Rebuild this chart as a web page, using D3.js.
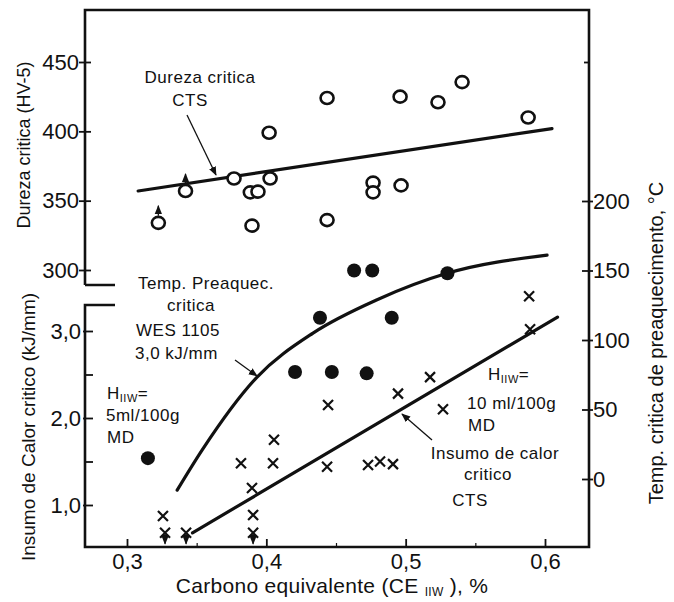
<!DOCTYPE html>
<html><head><meta charset="utf-8">
<script src="https://cdn.jsdelivr.net/npm/d3@7"></script>
<style>
body{margin:0;background:#fff;}
svg{display:block;font-family:"Liberation Sans",Arial,sans-serif;}
text{fill:#111;}
</style></head><body>
<svg id="c" width="674" height="602"></svg>
<script>
// ---- data ----
const ceTicks = [0.3, 0.4, 0.5, 0.6];
const ceTickLabels = ["0,3", "0,4", "0,5", "0,6"];
const ceMinorTicks = [0.35, 0.45, 0.55];
const hvTicks = [300, 350, 400, 450];
const heatTicks = [1, 2, 3];
const heatTickLabels = ["1,0", "2,0", "3,0"];
const heatMinorTicks = [1.5, 2.5];
const tempTicks = [0, 50, 100, 150, 200];
const tempExtraTicks = [300];

// critical hardness (open circles)
const hardCE = [0.3225, 0.342, 0.3768, 0.3885, 0.394, 0.3897, 0.4027, 0.402, 0.4436, 0.4436, 0.4766, 0.4766, 0.4967, 0.496, 0.5232, 0.5405, 0.5879];
const hardHV = [334, 357, 366, 356, 356.5, 332, 366, 399, 424, 336, 363, 356, 361, 425, 421, 435.5, 410];
const hardArrow = [1, 1, 0, 0, 0, 0, 0, 0, 0, 0, 0, 0, 0, 0, 0, 0, 0];
const hardLineCE = [0.308, 0.605];
const hardLineHV = [357, 402];

// critical preheat temperature (filled circles)
const preCE = [0.315, 0.4206, 0.4385, 0.447, 0.463, 0.472, 0.476, 0.490, 0.530];
const preT = [15, 77, 116, 77, 150, 76, 150, 116, 148];
const preCurveCE = [0.336, 0.354, 0.393, 0.4335, 0.4795, 0.5297, 0.6015];
const preCurveT = [-8, 21, 73, 105, 129, 148, 161];

// critical heat input (crosses)
const heatCE = [0.3258, 0.3273, 0.3424, 0.3897, 0.3905, 0.3905, 0.3818, 0.4048, 0.4055, 0.4436, 0.473, 0.4816, 0.4909, 0.4945, 0.5175, 0.5268, 0.5886, 0.5893, 0.4443];
const heatKJ = [0.874, 0.68, 0.68, 1.195, 0.885, 0.68, 1.48, 1.48, 1.75, 1.44, 1.46, 1.5, 1.47, 2.28, 2.47, 2.10, 3.40, 3.02, 2.15];
const heatArrow = [0, 1, 1, 0, 0, 1, 0, 0, 0, 0, 0, 0, 0, 0, 0, 0, 0, 0, 0];
const heatLineCE = [0.347, 0.609];
const heatLineKJ = [0.68, 3.16];

// ---- layout ----
const L = 85, R = 589, T = 10, B = 547;
const svg = d3.select("#c");
const x = d3.scaleLinear().domain([0.3, 0.6]).range([127, 545]);
const yHV = d3.scaleLinear().domain([300, 450]).range([270, 62]);
const yT = d3.scaleLinear().domain([0, 200]).range([479, 201]);
const yQ = d3.scaleLinear().domain([1, 3]).range([505, 331]);
const ink = "#111";
const FONT = '"Liberation Sans",Arial,sans-serif';

// defs arrowhead
const defs = svg.append("defs");
defs.append("marker").attr("id", "ah").attr("viewBox", "0 0 10 10").attr("refX", 9).attr("refY", 5)
  .attr("markerWidth", 7).attr("markerHeight", 7).attr("orient", "auto-start-reverse")
  .append("path").attr("d", "M0,1 L10,5 L0,9 Z").attr("fill", ink);

// frame
const frame = svg.append("g").attr("stroke", ink).attr("fill", "none").attr("stroke-width", 2.6);
frame.append("path").attr("d", `M${L},285 H115 M${L},285 V${T} H${R} V${B} H${L} V305 H115`);

function styleAxis(g, size) {
  g.select(".domain").remove();
  g.selectAll(".tick text").attr("font-size", size).attr("fill", ink).attr("font-family", FONT);
  g.selectAll(".tick line").attr("stroke", ink).attr("stroke-width", 1.8);
}

// left upper axis (HV)
const gHV = svg.append("g").attr("transform", `translate(${L},0)`)
  .call(d3.axisLeft(yHV).tickValues(hvTicks).tickSize(7).tickPadding(1));
styleAxis(gHV, 22);
gHV.selectAll(".tick line").attr("x2", -6).attr("x1", 6);
gHV.selectAll(".tick text").attr("x", -6);

// left lower axis (heat input)
const gQ = svg.append("g").attr("transform", `translate(${L},0)`)
  .call(d3.axisLeft(yQ).tickValues(heatTicks).tickFormat((d, i) => heatTickLabels[i]).tickSize(7).tickPadding(1));
styleAxis(gQ, 22);
gQ.selectAll(".tick line").attr("x2", -2).attr("x1", 8);
gQ.selectAll(".tick text").attr("x", -4);
const gQm = svg.append("g").attr("transform", `translate(${L},0)`)
  .call(d3.axisRight(yQ).tickValues(heatMinorTicks).tickSize(8).tickFormat(""));
styleAxis(gQm, 0);

// right axis (temperature)
const gT = svg.append("g").attr("transform", `translate(${R},0)`)
  .call(d3.axisRight(yT).tickValues(tempTicks).tickSize(6).tickPadding(1));
styleAxis(gT, 22);
gT.selectAll(".tick line").attr("x1", -7).attr("x2", 4);
gT.selectAll(".tick text").attr("x", 4);
const gTx = svg.append("g").attr("transform", `translate(${R},0)`)
  .call(d3.axisLeft(yT).tickValues(tempExtraTicks).tickSize(5).tickFormat(""));
styleAxis(gTx, 0);

// bottom axis
const gX = svg.append("g").attr("transform", `translate(0,${B})`)
  .call(d3.axisBottom(x).tickValues(ceTicks).tickFormat((d, i) => ceTickLabels[i]).tickSize(0).tickPadding(6));
styleAxis(gX, 22);
gX.selectAll(".tick line").attr("y1", 0).attr("y2", -8);
const gXm = svg.append("g").attr("transform", `translate(0,${B})`)
  .call(d3.axisTop(x).tickValues(ceMinorTicks).tickSize(4).tickFormat(""));
styleAxis(gXm, 0);
gXm.selectAll(".tick line").attr("stroke-width", 1.2);

// axis titles
svg.append("text").attr("transform", "translate(24,145) rotate(-90)").attr("text-anchor", "middle")
  .attr("dominant-baseline", "central").attr("font-size", 18).text("Dureza critica (HV-5)");
svg.append("text").attr("transform", "translate(28,427) rotate(-90)").attr("text-anchor", "middle")
  .attr("dominant-baseline", "central").attr("font-size", 19).text("Insumo de Calor critico (kJ/mm)");
svg.append("text").attr("transform", "translate(656,343) rotate(-90)").attr("text-anchor", "middle")
  .attr("dominant-baseline", "central").attr("font-size", 20).text("Temp. critica de preaquecimento, °C");
const xt = svg.append("text").attr("x", 332).attr("y", 593).attr("text-anchor", "middle").attr("font-size", 21).attr("letter-spacing", 0.3);
xt.append("tspan").text("Carbono equivalente (CE ");
xt.append("tspan").attr("font-size", 12).attr("dy", 3).text("IIW");
xt.append("tspan").attr("dy", -3).text(" ), %");

// lines
const lineG = svg.append("g").attr("fill", "none").attr("stroke", ink).attr("stroke-width", 3.2).attr("stroke-linecap", "round");
lineG.append("path").attr("d", d3.line()(hardLineCE.map((c, i) => [x(c), yHV(hardLineHV[i])])));
lineG.append("path").attr("d", d3.line().curve(d3.curveMonotoneX)(preCurveCE.map((c, i) => [x(c), yT(preCurveT[i])])));
lineG.append("path").attr("d", d3.line()(heatLineCE.map((c, i) => [x(c), yQ(heatLineKJ[i])])));

// hardness points
const hp = svg.append("g");
hardCE.forEach((c, i) => {
  const cx = x(c), cy = yHV(hardHV[i]);
  if (hardArrow[i]) {
    hp.append("line").attr("x1", cx).attr("x2", cx).attr("y1", cy - 7).attr("y2", cy - 17)
      .attr("stroke", ink).attr("stroke-width", 1.3).attr("marker-end", "url(#ah)");
  }
  hp.append("ellipse").attr("cx", cx).attr("cy", cy).attr("rx", 6.5).attr("ry", 6).attr("fill", "#fff").attr("stroke", ink).attr("stroke-width", 2.6);
});

// preheat points
svg.append("g").selectAll("circle").data(preCE).join("circle")
  .attr("cx", d => x(d)).attr("cy", (d, i) => yT(preT[i])).attr("r", 7).attr("fill", ink);

// heat input crosses
const hx = svg.append("g").attr("stroke", ink).attr("stroke-width", 2.2);
heatCE.forEach((c, i) => {
  const cx = x(c), cy = yQ(heatKJ[i]), s = 5;
  if (heatArrow[i]) {
    hx.append("line").attr("x1", cx).attr("x2", cx).attr("y1", cy).attr("y2", cy + 11)
      .attr("stroke-width", 1.4).attr("marker-end", "url(#ah)");
  }
  hx.append("path").attr("d", `M${cx - s},${cy - s}L${cx + s},${cy + s}M${cx - s},${cy + s}L${cx + s},${cy - s}`);
});

// annotations
const ann = svg.append("g").attr("font-size", 17).attr("letter-spacing", 0.5);
function txt(t, px, py, anchor) { return ann.append("text").attr("x", px).attr("y", py).attr("text-anchor", anchor || "start").text(t); }
txt("Dureza critica", 200, 83, "middle");
txt("CTS", 190, 106, "middle");
txt("Temp. Preaquec.", 138, 289);
txt("critica", 167, 311);
txt("WES 1105", 136, 336);
txt("3,0 kJ/mm", 135, 359);
function hiiw(px, py) {
  const t = ann.append("text").attr("x", px).attr("y", py);
  t.append("tspan").text("H");
  t.append("tspan").attr("font-size", 11).attr("dy", 3).text("IIW");
  t.append("tspan").attr("dy", -3).text("=");
}
hiiw(107, 399);
txt("5ml/100g", 106, 421);
txt("MD", 107, 443);
hiiw(488, 380);
txt("10 ml/100g", 467, 409);
txt("MD", 468, 431);
txt("Insumo de calor", 495, 459, "middle");
txt("critico", 488, 480, "middle");
txt("CTS", 470, 506, "middle");

const arr = svg.append("g").attr("stroke", ink).attr("stroke-width", 1.3);
arr.append("line").attr("x1", 187).attr("y1", 115).attr("x2", 216).attr("y2", 175).attr("marker-end", "url(#ah)");
arr.append("line").attr("x1", 235).attr("y1", 360).attr("x2", 257).attr("y2", 376).attr("marker-end", "url(#ah)");
arr.append("line").attr("x1", 432).attr("y1", 440).attr("x2", 402).attr("y2", 414).attr("marker-end", "url(#ah)");
</script>
</body></html>
